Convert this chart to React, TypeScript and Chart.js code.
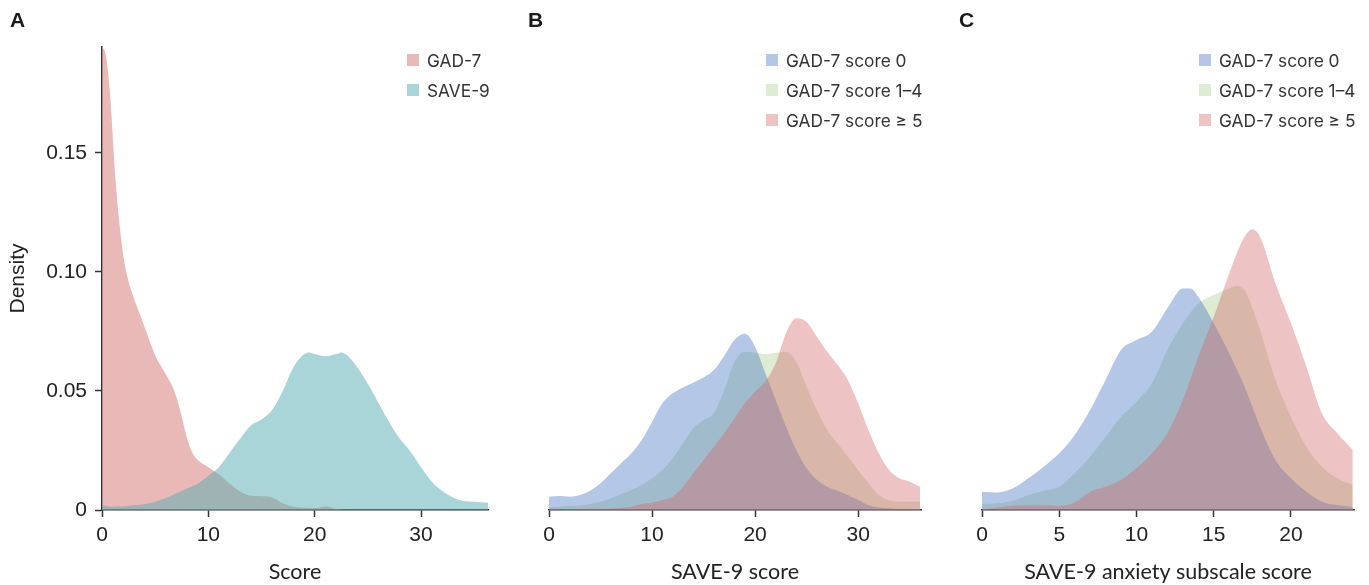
import React, { useEffect, useRef } from 'react';
import { Chart, registerables } from 'chart.js';

Chart.register(...registerables);

// ---------- Panel A data (x = score) ----------
const aGad7X = [0, 0.4, 0.8, 1.2, 1.6, 2, 2.5, 3, 3.5, 4, 5, 6, 6.8, 7.4, 8, 8.5, 9, 10, 11, 12, 13, 14, 15, 16, 17, 18, 19, 20, 21, 22, 23];
const aGad7Y = [0.195, 0.19, 0.172, 0.143, 0.122, 0.107, 0.096, 0.089, 0.083, 0.077, 0.065, 0.057, 0.05, 0.041, 0.03, 0.024, 0.021, 0.018, 0.015, 0.011, 0.0078, 0.006, 0.0058, 0.0053, 0.0028, 0.0014, 0.0009, 0.0008, 0.0015, 0.0004, 0];
const aSave9X = [0, 1, 2, 3, 4, 5, 6, 7, 8, 9, 10, 11, 12, 13, 14, 15, 16, 17, 18, 19, 19.5, 20, 21, 22, 22.5, 23, 24, 25, 26, 27, 28, 29, 30, 31, 32, 33, 34, 35, 36, 36.3];
const aSave9Y = [0.0019, 0.0014, 0.0016, 0.002, 0.0024, 0.0035, 0.005, 0.007, 0.009, 0.011, 0.0144, 0.018, 0.024, 0.03, 0.0355, 0.038, 0.042, 0.05, 0.06, 0.0654, 0.0662, 0.0655, 0.0646, 0.0655, 0.0662, 0.0652, 0.06, 0.053, 0.045, 0.037, 0.03, 0.0246, 0.018, 0.012, 0.008, 0.0053, 0.0038, 0.0035, 0.0031, 0.003];

// ---------- Panel B data (x = SAVE-9 score) ----------
const bX = [0, 1, 2, 3, 4, 5, 6, 7, 8, 9, 10, 11, 12, 13, 14, 15, 16, 17, 18, 19, 20, 21, 22, 23, 24, 25, 26, 27, 28, 29, 30, 31, 32, 33, 34, 35, 36];
const bScore0 = [0.0056, 0.0059, 0.0056, 0.0063, 0.0081, 0.0112, 0.0154, 0.0196, 0.0238, 0.0294, 0.037, 0.0448, 0.049, 0.0515, 0.0535, 0.0557, 0.0588, 0.0647, 0.0714, 0.074, 0.0686, 0.0574, 0.0462, 0.035, 0.0252, 0.0175, 0.0126, 0.0098, 0.0081, 0.0063, 0.0042, 0.0021, 0.0011, 0.0007, 0.0004, 0.0003, 0.0001];
const bScore14 = [0.0011, 0.0014, 0.0017, 0.002, 0.0025, 0.0035, 0.0049, 0.0067, 0.0084, 0.0105, 0.0133, 0.0168, 0.0217, 0.028, 0.0343, 0.0378, 0.0406, 0.0504, 0.0623, 0.0665, 0.0661, 0.0655, 0.0661, 0.0665, 0.0623, 0.0518, 0.042, 0.0336, 0.028, 0.0224, 0.0168, 0.0112, 0.0063, 0.0042, 0.0035, 0.0035, 0.0035];
const bScore5 = [0.0003, 0.0003, 0.0004, 0.0004, 0.0005, 0.0005, 0.0006, 0.0008, 0.0014, 0.0025, 0.003, 0.0042, 0.0056, 0.0098, 0.0154, 0.021, 0.0266, 0.0322, 0.0385, 0.0448, 0.0497, 0.054, 0.0616, 0.0742, 0.0805, 0.079, 0.0728, 0.0665, 0.061, 0.0546, 0.0448, 0.0336, 0.0238, 0.0168, 0.0133, 0.0119, 0.0098];

// ---------- Panel C data (x = SAVE-9 anxiety subscale score) ----------
const cX = [0, 1, 2, 3, 4, 5, 6, 7, 8, 9, 10, 11, 12, 13, 13.5, 14, 15, 16, 16.5, 17, 17.5, 18, 19, 20, 21, 22, 23, 24];
const cScore0 = [0.0077, 0.0074, 0.0091, 0.0133, 0.0182, 0.0238, 0.0315, 0.042, 0.0546, 0.0672, 0.0714, 0.0749, 0.0847, 0.0931, 0.0931, 0.0896, 0.0784, 0.0658, 0.059, 0.0518, 0.0435, 0.035, 0.021, 0.0133, 0.0077, 0.0035, 0.0021, 0.0014];
const cScore14 = [0.0025, 0.0028, 0.0039, 0.0063, 0.0081, 0.0098, 0.0154, 0.0224, 0.0308, 0.0392, 0.0455, 0.0532, 0.0672, 0.0784, 0.083, 0.0868, 0.0903, 0.0931, 0.0941, 0.0924, 0.085, 0.0756, 0.0546, 0.0392, 0.0266, 0.0182, 0.0133, 0.0105];
const cScore5 = [0.0003, 0.0011, 0.0018, 0.002, 0.002, 0.0017, 0.0031, 0.0077, 0.0098, 0.0126, 0.0175, 0.0238, 0.0322, 0.0462, 0.055, 0.0644, 0.0812, 0.0994, 0.108, 0.1148, 0.1179, 0.1148, 0.0952, 0.0784, 0.0602, 0.0406, 0.0322, 0.0252];

// ---------- Axis ticks / labels ----------
const yTickLabels = ['0', '0.05', '0.10', '0.15'];
const yMax = 0.1945;
const legendA = ['GAD-7', 'SAVE-9'];
const legendBC = ['GAD-7 score 0', 'GAD-7 score 1\u20134', 'GAD-7 score \u2265 5'];
const xTitles = ['Score', 'SAVE-9 score', 'SAVE-9 anxiety subscale score'];
const panelLetters = ['A', 'B', 'C'];

const colRedA = 'rgba(211,115,113,0.5)';
const colTeal = 'rgba(85,171,177,0.5)';
const colBlue = 'rgba(68,114,196,0.4)';
const colGreen = 'rgba(169,208,142,0.4)';
const colRed = 'rgba(210,105,105,0.4)';

const TICK_FONT = '"Liberation Sans", Arial, sans-serif';
const TITLE_FONT = 'Lato, "Noto Sans", sans-serif';
const LEGEND_FONT = 'Inter, Roboto, sans-serif';
const AXIS = '#333333';
const TEXT = '#222222';

function ds(label: string, xs: number[], ys: number[], color: string, order: number) {
  return {
    label,
    data: xs.map((x, i) => ({ x, y: ys[i] })),
    backgroundColor: color,
    borderColor: 'rgba(0,0,0,0)',
    borderWidth: 0,
    pointRadius: 0,
    fill: 'origin',
    cubicInterpolationMode: 'monotone',
    order,
  };
}

function xScale(max: number, step: number, title: string) {
  return {
    type: 'linear',
    min: 0,
    max,
    ticks: {
      stepSize: step,
      includeBounds: false,
      autoSkip: false,
      maxRotation: 0,
      color: TEXT,
      padding: 6,
      font: { family: TICK_FONT, size: 21 },
    },
    grid: {
      display: true,
      drawOnChartArea: false,
      drawTicks: true,
      tickLength: 7,
      color: AXIS,
      tickColor: AXIS,
      tickWidth: 1.5,
    },
    border: { display: true, color: AXIS, width: 1.5 },
    title: {
      display: true,
      text: title,
      color: TEXT,
      font: { family: TITLE_FONT, size: 21.5 },
      padding: { top: 0, bottom: 0 },
    },
    afterFit: (s: any) => {
      s.height = 75;
    },
  };
}

function hiddenY() {
  return { type: 'linear', min: 0, max: yMax, display: false };
}

function baseOptions(padding: any, scales: any) {
  return {
    responsive: false,
    maintainAspectRatio: false,
    animation: false,
    devicePixelRatio: 1,
    layout: { padding },
    plugins: { legend: { display: false }, tooltip: { enabled: false }, title: { display: false } },
    elements: { line: { tension: 0.4 } },
    scales,
  };
}

function Legend({ left, items, colors }: { left: number; items: string[]; colors: string[] }) {
  return (
    <>
      {items.map((t, i) => (
        <div
          key={t}
          style={{
            position: 'absolute',
            left,
            top: 45 + i * 30,
            height: 30,
            display: 'flex',
            alignItems: 'center',
            whiteSpace: 'nowrap',
            fontFamily: LEGEND_FONT,
            fontSize: 17.3,
            color: '#333',
          }}
        >
          <span style={{ display: 'inline-block', width: 12, height: 12, background: colors[i], marginRight: 8 }} />
          <span>{t}</span>
        </div>
      ))}
    </>
  );
}

export default function App() {
  const refA = useRef<HTMLCanvasElement>(null);
  const refB = useRef<HTMLCanvasElement>(null);
  const refC = useRef<HTMLCanvasElement>(null);

  useEffect(() => {
    const charts: Chart[] = [];

    charts.push(
      new Chart(refA.current as HTMLCanvasElement, {
        type: 'line',
        data: {
          datasets: [
            ds(legendA[0], aGad7X, aGad7Y, colRedA, 2),
            ds(legendA[1], aSave9X, aSave9Y, colTeal, 1),
          ],
        } as any,
        options: baseOptions({ left: 0, right: 32, top: 47, bottom: 0 }, {
          x: xScale(36.3, 10, xTitles[0]),
          y: {
            type: 'linear',
            min: 0,
            max: yMax,
            ticks: {
              stepSize: 0.05,
              includeBounds: false,
              color: TEXT,
              padding: 8,
              font: { family: TICK_FONT, size: 21 },
              callback: (v: any) => yTickLabels[Math.round(Number(v) / 0.05)] ?? '',
            },
            grid: {
              display: true,
              drawOnChartArea: false,
              drawTicks: true,
              tickLength: 7,
              color: AXIS,
              tickColor: AXIS,
              tickWidth: 1.5,
            },
            border: { display: true, color: AXIS, width: 1.5 },
            title: {
              display: true,
              text: 'Density',
              color: TEXT,
              font: { family: TICK_FONT, size: 21 },
              padding: { top: 5.5, bottom: 0 },
            },
            afterFit: (s: any) => {
              s.width = 102;
            },
          },
        }) as any,
      })
    );

    charts.push(
      new Chart(refB.current as HTMLCanvasElement, {
        type: 'line',
        data: {
          datasets: [
            ds(legendBC[0], bX, bScore0, colBlue, 2),
            ds(legendBC[1], bX, bScore14, colGreen, 3),
            ds(legendBC[2], bX, bScore5, colRed, 1),
          ],
        } as any,
        options: baseOptions({ left: 29, right: 29, top: 47, bottom: 0 }, {
          x: xScale(36.1, 10, xTitles[1]),
          y: hiddenY(),
        }) as any,
      })
    );

    charts.push(
      new Chart(refC.current as HTMLCanvasElement, {
        type: 'line',
        data: {
          datasets: [
            ds(legendBC[0], cX, cScore0, colBlue, 2),
            ds(legendBC[1], cX, cScore14, colGreen, 3),
            ds(legendBC[2], cX, cScore5, colRed, 1),
          ],
        } as any,
        options: baseOptions({ left: 32, right: 15, top: 47, bottom: 0 }, {
          x: xScale(24.08, 5, xTitles[2]),
          y: hiddenY(),
        }) as any,
      })
    );

    return () => {
      charts.forEach((c) => c.destroy());
    };
  }, []);

  const letterStyle = (left: number): React.CSSProperties => ({
    position: 'absolute',
    left,
    top: 9,
    fontFamily: '"Liberation Sans", Arial, sans-serif',
    fontWeight: 'bold',
    fontSize: 21,
    lineHeight: '21px',
    color: '#1a1a1a',
  });

  return (
    <div style={{ position: 'absolute', left: 0, top: 0, width: 1369, height: 585, background: '#fff', overflow: 'hidden' }}>
      <canvas ref={refA} width={520} height={585} style={{ position: 'absolute', left: 0, top: 0 }} />
      <canvas ref={refB} width={430} height={585} style={{ position: 'absolute', left: 520, top: 0 }} />
      <canvas ref={refC} width={419} height={585} style={{ position: 'absolute', left: 950, top: 0 }} />
      <div style={letterStyle(10)}>{panelLetters[0]}</div>
      <div style={letterStyle(528)}>{panelLetters[1]}</div>
      <div style={letterStyle(959)}>{panelLetters[2]}</div>
      <Legend left={407} items={legendA} colors={[colRedA, colTeal]} />
      <Legend left={766} items={legendBC} colors={[colBlue, colGreen, colRed]} />
      <Legend left={1199} items={legendBC} colors={[colBlue, colGreen, colRed]} />
    </div>
  );
}
